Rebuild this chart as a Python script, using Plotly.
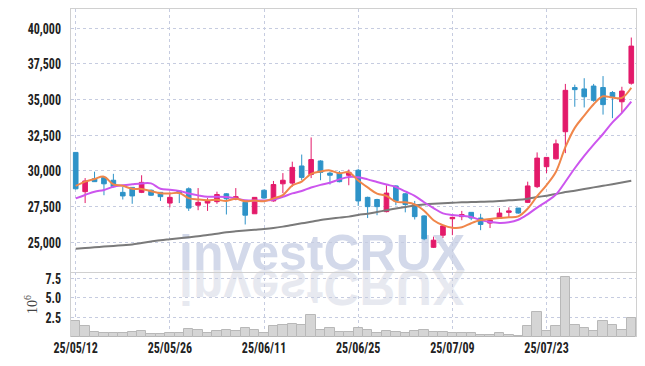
import plotly.graph_objects as go

# ---------------- data ----------------
dates = [
    "25/05/12", "25/05/13", "25/05/14", "25/05/15", "25/05/16", "25/05/19", "25/05/20", "25/05/21", "25/05/22", "25/05/23",
    "25/05/26", "25/05/27", "25/05/28", "25/05/29", "25/05/30", "25/06/02", "25/06/04", "25/06/05", "25/06/09", "25/06/10",
    "25/06/11", "25/06/12", "25/06/13", "25/06/16", "25/06/17", "25/06/18", "25/06/19", "25/06/20", "25/06/23", "25/06/24",
    "25/06/25", "25/06/26", "25/06/27", "25/06/30", "25/07/01", "25/07/02", "25/07/03", "25/07/04", "25/07/07", "25/07/08",
    "25/07/09", "25/07/10", "25/07/11", "25/07/14", "25/07/15", "25/07/16", "25/07/17", "25/07/18", "25/07/21", "25/07/22",
    "25/07/23", "25/07/24", "25/07/25", "25/07/28", "25/07/29", "25/07/30", "25/07/31", "25/08/01", "25/08/04", "25/08/05",
]
opens = [
    31300, 28550, 29450, 29550, 29350, 28500, 28850, 28500, 28650, 28500,
    27750, 28600, 28750, 27600, 27750, 27850, 28400, 28000, 27800, 27000,
    28650, 27900, 29100, 29150, 30350, 29750, 30700, 29850, 29850, 29700,
    30050, 28150, 28000, 27150, 28950, 28400, 27650, 26850, 24650, 25500,
    26650, 26800, 27100, 26700, 26350, 26700, 27100, 27400, 27800, 28900,
    30300, 30850, 32750, 35850, 35750, 35950, 35850, 35500, 34850, 36150,
]
highs = [
    31300, 29500, 29950, 29550, 29800, 28900, 28850, 29700, 28700, 28500,
    28500, 28650, 28850, 28800, 28100, 28550, 28450, 28800, 27900, 28150,
    28700, 29300, 29850, 30650, 31150, 32350, 30750, 29950, 30000, 30100,
    30150, 28200, 28050, 29000, 29000, 28450, 27900, 26900, 25400, 26200,
    26800, 27200, 27100, 27000, 26650, 27400, 27450, 27400, 29250, 31300,
    30950, 32200, 36100, 36050, 36500, 36100, 36650, 35600, 35900, 39350,
]
lows = [
    28700, 27750, 29250, 28300, 28850, 28000, 27700, 28450, 28250, 27900,
    27450, 27750, 27200, 27250, 27200, 27700, 26950, 27950, 26250, 27000,
    28050, 27850, 28450, 28900, 29350, 29500, 29350, 29050, 29200, 29000,
    27550, 26700, 26900, 27100, 27600, 27100, 26600, 25150, 24600, 25300,
    25500, 26550, 26550, 25850, 26000, 26650, 26700, 27000, 27750, 28800,
    29850, 30800, 31250, 34500, 34450, 34850, 33950, 33700, 34050, 36050,
]
closes = [
    28750, 29300, 29250, 29100, 28900, 28250, 28250, 29200, 28300, 28200,
    28150, 28450, 27400, 27800, 27900, 28350, 28050, 28200, 26900, 28150,
    28100, 29050, 29350, 30250, 29550, 30800, 29900, 29700, 29250, 29900,
    27900, 27500, 27500, 28450, 27900, 27650, 26800, 25250, 25150, 26150,
    26750, 26950, 26700, 26250, 26550, 27050, 27200, 27050, 28950, 30900,
    30950, 31900, 35650, 35700, 35200, 34950, 34650, 35200, 35600, 38750,
]
# volume in millions of shares
volumes_m = [
    2.1, 1.4, 0.7, 0.5, 0.5, 0.5, 0.7, 0.8, 0.4, 0.4,
    0.5, 0.5, 1.0, 0.9, 0.5, 0.8, 0.9, 0.8, 1.15, 0.9,
    0.5, 1.45, 1.6, 1.7, 1.6, 2.85, 0.95, 1.15, 0.6, 0.7,
    1.15, 0.9, 0.5, 0.8, 0.6, 0.45, 0.8, 0.95, 0.7, 0.6,
    0.45, 0.45, 0.45, 0.3, 0.3, 0.45, 0.25, 0.15, 1.4, 3.15,
    0.8, 1.4, 7.7, 1.6, 1.15, 0.8, 2.1, 1.6, 0.95, 2.45,
]
ma5 = [
    28950, 29250, 29440, 29600, 29060, 28960, 28750, 28740, 28580, 28440,
    28420, 28460, 28100, 28000, 27940, 27980, 27900, 28060, 27880, 27930,
    27880, 28080, 28310, 28980, 29260, 29800, 29970, 30040, 29840, 29910,
    29330, 28850, 28410, 28250, 27850, 27800, 27660, 27210, 26550, 26200,
    26020, 26050, 26340, 26560, 26640, 26700, 26750, 26820, 27360, 28230,
    29010, 29950, 31670, 33020, 33880, 34680, 35230, 35140, 35120, 35830,
]
ma10 = [
    28080, 28320, 28550, 28670, 28900, 29000, 29070, 29130, 29130, 28750,
    28690, 28605, 28420, 28290, 28190, 28200, 28180, 28080, 27940, 27935,
    27930, 27990, 28185, 28430, 28595, 28840, 29025, 29175, 29410, 29585,
    29565, 29410, 29225, 29045, 28880, 28565, 28255, 27810, 27400, 27025,
    26910, 26855, 26775, 26555, 26420, 26360, 26400, 26580, 26960, 27435,
    27855, 28350, 29245, 30190, 31055, 31845, 32590, 33405, 34070, 34855,
]
ma_long = [
    24550, 24600, 24650, 24700, 24750, 24800, 24850, 24950, 25050, 25150,
    25220, 25290, 25360, 25430, 25520, 25600, 25700, 25770, 25830, 25880,
    25930, 26000, 26100, 26220, 26330, 26440, 26560, 26650, 26730, 26800,
    26920, 27000, 27120, 27250, 27370, 27480, 27580, 27650, 27700, 27740,
    27770, 27800, 27820, 27840, 27860, 27900, 27940, 27980, 28060, 28170,
    28270, 28380, 28520, 28620, 28730, 28850, 28960, 29070, 29190, 29320,
]
price_ticks = [25000, 27500, 30000, 32500, 35000, 37500, 40000]
volume_ticks = [2.5, 5.0, 7.5]
date_ticks = dates[::10]
watermark = "investCRUX"
volume_title = "10<sup>6</sup>"

# ---------------- style ----------------
RED = "#e31a6a"
BLUE = "#2e93c8"
GRID = "#c6cce0"
FRAME = "#d0d0d0"
TICKFONT = dict(family="Liberation Sans Narrow, Roboto Condensed, Liberation Sans, Arial, sans-serif",
                size=15, color="#222222", weight="bold")
VOL_SPLIT = 65 / 328

fig = go.Figure()

fig.add_trace(go.Candlestick(
    x=dates, open=opens, high=highs, low=lows, close=closes,
    increasing=dict(line=dict(color=RED, width=1), fillcolor=RED),
    decreasing=dict(line=dict(color=BLUE, width=1), fillcolor=BLUE),
    whiskerwidth=0, xaxis="x", yaxis="y", showlegend=False, name="price",
))
fig.add_trace(go.Scatter(x=dates, y=ma_long, mode="lines", line=dict(color="#7a7a7a", width=2, shape="spline"),
                         xaxis="x", yaxis="y", showlegend=False, name="MA long"))
fig.add_trace(go.Scatter(x=dates, y=ma10, mode="lines", line=dict(color="#cc55ee", width=2, shape="spline"),
                         xaxis="x", yaxis="y", showlegend=False, name="MA10"))
fig.add_trace(go.Scatter(x=dates, y=ma5, mode="lines", line=dict(color="#f0864a", width=2, shape="spline"),
                         xaxis="x", yaxis="y", showlegend=False, name="MA5"))
fig.add_trace(go.Bar(x=dates, y=volumes_m, marker=dict(color="#d5d5d5", line=dict(color="#b8b8b8", width=1)),
                     xaxis="x2", yaxis="y2", showlegend=False, name="volume"))

common_x = dict(type="category", range=[-0.5, len(dates) - 0.5], tickmode="array", tickvals=date_ticks,
                showgrid=True, gridcolor=GRID, griddash="dot", gridwidth=1, zeroline=False, automargin=False)

fig.update_layout(
    width=645, height=366,
    margin=dict(l=71, r=9, t=9, b=29, autoexpand=False),
    paper_bgcolor="white", plot_bgcolor="white",
    bargap=0,
    xaxis=dict(**common_x, anchor="y", domain=[0, 1], showticklabels=False, rangeslider=dict(visible=False),
               showline=True, linecolor=FRAME, linewidth=1, mirror=True),
    xaxis2=dict(**common_x, anchor="y2", domain=[0, 1], matches="x", ticktext=date_ticks,
                ticks="", tickfont=TICKFONT),
    yaxis=dict(domain=[VOL_SPLIT, 1], range=[22920, 41350], tickmode="array", tickvals=price_ticks,
               tickformat=",d", tickfont=TICKFONT, ticks="outside", ticklen=6, tickcolor="rgba(0,0,0,0)",
               showgrid=True, gridcolor=GRID, griddash="dot", zeroline=False, automargin=False,
               showline=True, linecolor=FRAME, linewidth=1, mirror=True),
    yaxis2=dict(domain=[0, VOL_SPLIT], range=[0, 8.33], tickmode="array", tickvals=volume_ticks,
                tickformat=".1f", tickfont=TICKFONT, ticks="outside", ticklen=6, tickcolor="rgba(0,0,0,0)",
                showgrid=True, gridcolor=GRID, griddash="dot", zeroline=False, automargin=False,
                showline=True, linecolor=FRAME, linewidth=1, mirror=True,
                title=dict(text=volume_title, standoff=0,
                           font=dict(family="Liberation Serif, DejaVu Serif, serif", size=14, color="#444444"))),
    annotations=[
        dict(text=watermark, xref="paper", yref="paper", x=0.444, y=VOL_SPLIT, xanchor="center", yanchor="bottom",
             yshift=-11, showarrow=False,
             font=dict(family="Liberation Sans, Arial, sans-serif", size=50, color="#d3d9ea", weight="bold")),
        dict(text=watermark, xref="paper", yref="paper", x=0.444, y=VOL_SPLIT, xanchor="center", yanchor="bottom",
             yshift=-11, showarrow=False,
             font=dict(family="Liberation Sans, Arial, sans-serif", size=50, color="#e7e9f0", weight="bold")),
    ],
)

post = """
document.documentElement.style.margin = '0';
document.body.style.margin = '0';
document.body.style.padding = '0';
var gd = document.getElementById('{plot_id}');
function fixWatermark(){
  if(!gd) return;
  var below = gd.querySelector('.layer-below');
  var anns = gd.querySelectorAll('g.annotation');
  for (var i = 0; i < anns.length; i++) {
    var a = anns[i];
    var idx = a.getAttribute('data-index');
    var t = a.querySelector('text.annotation-text');
    if (idx === '1' && t) {
      var y0 = parseFloat(t.getAttribute('y'));
      if (isNaN(y0)) { var bb = t.getBBox(); y0 = bb.y + bb.height * 0.81; }
      t.setAttribute('transform', 'translate(0,' + (2 * y0) + ') scale(1,-1)');
    }
    if (below && a.parentNode !== below) { below.appendChild(a); }
  }
}
function squeezeTicks(){
  if(!gd) return;
  var ts = gd.querySelectorAll('g.xtick text, g.x2tick text, g.ytick text, g.y2tick text');
  for (var i = 0; i < ts.length; i++) {
    var t = ts[i];
    if (t.getAttribute('data-sq')) continue;
    var w = t.getComputedTextLength();
    if (w > 0) {
      t.setAttribute('textLength', (w * 0.8).toFixed(1));
      t.setAttribute('lengthAdjust', 'spacingAndGlyphs');
      t.setAttribute('data-sq', '1');
    }
  }
}
function fixAll(){ fixWatermark(); squeezeTicks(); }
fixAll();
setTimeout(fixAll, 50);
"""

fig.write_html("out.html", post_script=post, config={"displayModeBar": False})
